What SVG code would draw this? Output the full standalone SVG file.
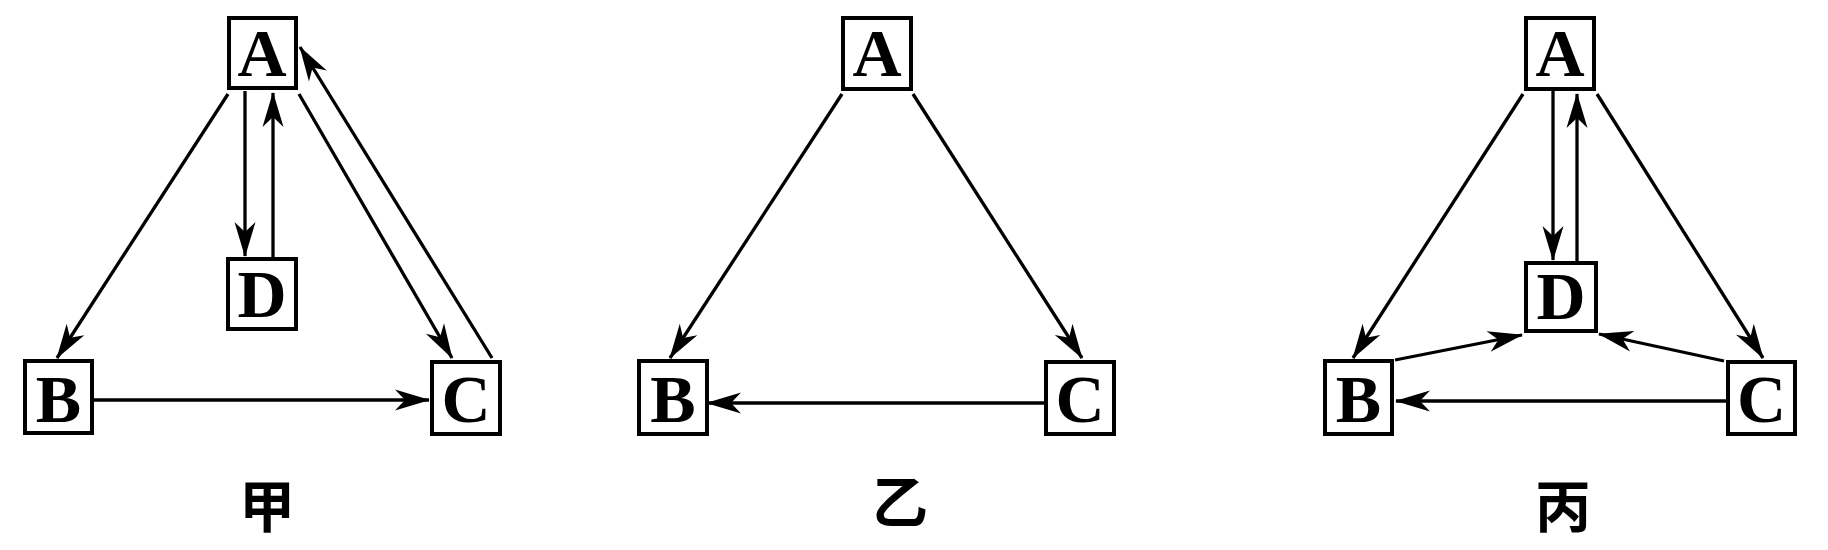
<svg xmlns="http://www.w3.org/2000/svg" width="1828" height="550" viewBox="0 0 1828 550">
<style>
.box rect{fill:#fff;stroke:#000;stroke-width:4}
.box text{font-family:"Liberation Serif","Times New Roman",serif;font-weight:bold;font-size:68px;text-anchor:middle;fill:#000}
.edges line{stroke:#000;stroke-width:3.3;fill:none;marker-end:url(#ah)}
.cap{font-family:"Noto Sans CJK SC","Noto Sans CJK JP",sans-serif;font-weight:bold;font-size:56px;text-anchor:middle;fill:#000}
</style>
<defs>
<marker id="ah" markerUnits="userSpaceOnUse" markerWidth="40" markerHeight="24" viewBox="-36 -12 40 24" refX="0" refY="0" orient="auto">
<path d="M1,0 L-34,-10.5 L-24,0 L-34,10.5 Z" fill="#000"/>
</marker>
</defs>
<rect width="1828" height="550" fill="#fff"/>
<g class="edges" id="connectors">
<line x1="228" y1="94" x2="57" y2="358"/>
<line x1="245" y1="91" x2="245" y2="256"/>
<line x1="273" y1="257" x2="273" y2="93"/>
<line x1="299" y1="94" x2="452" y2="358"/>
<line x1="492" y1="358" x2="300" y2="47"/>
<line x1="94" y1="400" x2="429" y2="400"/>
<line x1="842" y1="94" x2="670" y2="358"/>
<line x1="913" y1="94" x2="1082" y2="358"/>
<line x1="1044" y1="403" x2="707" y2="403"/>
<line x1="1523" y1="94" x2="1353" y2="358"/>
<line x1="1553" y1="91" x2="1553" y2="260"/>
<line x1="1577" y1="261" x2="1577" y2="94"/>
<line x1="1597" y1="94" x2="1763" y2="358"/>
<line x1="1395" y1="360" x2="1522" y2="335"/>
<line x1="1724" y1="361" x2="1599" y2="334"/>
<line x1="1726" y1="401" x2="1396" y2="401"/>
</g>
<g class="box" id="jia-A"><rect x="229" y="18" width="67" height="70"/><text x="262" y="76">A</text></g>
<g class="box" id="jia-D"><rect x="228" y="259" width="68" height="70"/><text x="262" y="317">D</text></g>
<g class="box" id="jia-B"><rect x="25" y="361" width="67" height="72"/><text x="58.5" y="422">B</text></g>
<g class="box" id="jia-C"><rect x="432" y="362" width="68" height="72"/><text x="466" y="422">C</text></g>
<g class="box" id="yi-A"><rect x="843" y="18" width="68" height="71"/><text x="877" y="76">A</text></g>
<g class="box" id="yi-B"><rect x="639" y="361" width="68" height="73"/><text x="673" y="422">B</text></g>
<g class="box" id="yi-C"><rect x="1046" y="362" width="68" height="72"/><text x="1080" y="422">C</text></g>
<g class="box" id="bing-A"><rect x="1526" y="18" width="68" height="71"/><text x="1560" y="76">A</text></g>
<g class="box" id="bing-D"><rect x="1526" y="263" width="70" height="68"/><text x="1561" y="319">D</text></g>
<g class="box" id="bing-B"><rect x="1325" y="361" width="67" height="73"/><text x="1358.5" y="422">B</text></g>
<g class="box" id="bing-C"><rect x="1728" y="362" width="67" height="72"/><text x="1761.5" y="422">C</text></g>
<g id="captions">
<text class="cap" x="267" y="527">甲</text>
<text class="cap" x="900" y="523">乙</text>
<text class="cap" x="1563" y="527">丙</text>
</g>
</svg>
